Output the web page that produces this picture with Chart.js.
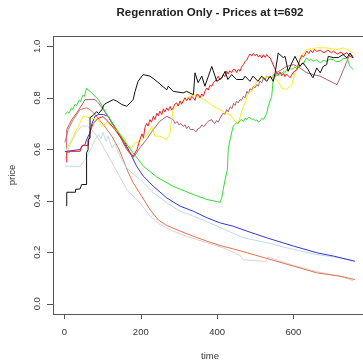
<!DOCTYPE html>
<html>
<head>
<meta charset="utf-8">
<script src="https://cdn.jsdelivr.net/npm/chart.js@4.4.1/dist/chart.umd.min.js"></script>
<style>
  html, body { margin: 0; padding: 0; background: #fff; overflow: hidden; }
  #wrap { position: relative; width: 370px; height: 363px; }
</style>
</head>
<body>
<div id="wrap"><canvas id="c" width="370" height="363"></canvas></div>
<script>
// Price paths per agent: time stamps and prices
const blackT = [6,6,28,29,41,45,58,58,62,62,67,67,75,84,90,98,104,111,128,137,150,163,172,180,185,193,206,224,237,268,272,285,311,320,338,342,350,360,368,386,399,412,421,428,438,451,468,473,486,494,507,517,530,539,547,552,560,573,578,586,596,604,617,625,638,648,651,661,670,678,687,691,704,717,730,740,748,756];
const blackP = [0.379,0.433,0.433,0.444,0.446,0.463,0.463,0.586,0.599,0.638,0.644,0.723,0.731,0.746,0.739,0.754,0.774,0.780,0.793,0.787,0.774,0.767,0.780,0.793,0.825,0.864,0.890,0.884,0.870,0.831,0.845,0.825,0.819,0.825,0.812,0.897,0.859,0.884,0.845,0.922,0.864,0.877,0.903,0.871,0.890,0.871,0.871,0.884,0.864,0.884,0.864,0.884,0.864,0.884,0.864,0.897,0.974,0.956,0.961,0.903,0.936,0.961,0.922,0.936,0.910,0.884,0.878,0.916,0.897,0.922,0.929,0.961,0.956,0.956,0.968,0.955,0.974,0.955];

const redT = [6,6,14,14,41,46,62,67,75,88,101,114,132,151,166,180,190,198,203,207,211,215,219,224,228,233,237,242,246,250,255,259,263,268,272,277,281,285,289,294,298,303,307,311,316,320,325,329,333,338,342,346,351,355,360,364,368,373,377,381,386,390,394,398,403,407,412,416,420,425,429,433,438,442,447,451,455,460,464,469,473,478,482,486,491,495,500,504,508,512,517,521,526,530,535,539,556,560,565,569,574,578,582,587,591,600,609,617,622,626,635,640,645,650,655,661,670,680,690,700,705,715,725,731,740,748,757];
const redP = [0.549,0.589,0.589,0.592,0.592,0.615,0.615,0.668,0.700,0.720,0.727,0.708,0.677,0.638,0.599,0.572,0.599,0.638,0.660,0.645,0.685,0.700,0.690,0.715,0.705,0.728,0.715,0.740,0.730,0.748,0.735,0.757,0.745,0.761,0.750,0.766,0.752,0.761,0.775,0.780,0.768,0.788,0.775,0.787,0.800,0.788,0.800,0.790,0.805,0.800,0.790,0.812,0.812,0.800,0.815,0.806,0.825,0.838,0.830,0.848,0.845,0.858,0.864,0.872,0.884,0.870,0.877,0.890,0.882,0.903,0.892,0.905,0.897,0.910,0.909,0.898,0.910,0.903,0.920,0.929,0.940,0.948,0.960,0.970,0.962,0.972,0.963,0.970,0.958,0.966,0.955,0.967,0.957,0.968,0.958,0.955,0.897,0.890,0.900,0.885,0.895,0.882,0.892,0.884,0.878,0.900,0.909,0.948,0.965,0.958,0.981,0.972,0.985,0.975,0.988,0.980,0.985,0.975,0.985,0.975,0.981,0.970,0.978,0.968,0.975,0.961,0.955];

const greenT = [1,8,12,18,22,28,32,38,42,48,52,58,62,67,89,106,132,154,180,207,242,285,338,373,408,412,416,421,427,429,434,438,442,446,451,455,460,464,469,473,478,482,486,491,495,500,504,508,512,517,521,526,530,534,538,543,547,552,556,560,565,569,574,578,582,587,591,596,604,609,617,622,626,630,635,640,645,652,660,670,678,687,695,705,712,722,730,740,748,757];
const greenP = [0.735,0.745,0.740,0.760,0.755,0.775,0.770,0.790,0.785,0.810,0.805,0.838,0.830,0.825,0.793,0.748,0.689,0.638,0.586,0.534,0.492,0.456,0.424,0.405,0.394,0.411,0.444,0.483,0.521,0.599,0.638,0.664,0.689,0.695,0.703,0.700,0.712,0.715,0.708,0.720,0.716,0.724,0.722,0.716,0.718,0.710,0.714,0.706,0.709,0.720,0.716,0.728,0.740,0.767,0.785,0.806,0.871,0.880,0.890,0.885,0.898,0.893,0.903,0.898,0.910,0.905,0.916,0.910,0.920,0.912,0.922,0.935,0.930,0.945,0.955,0.945,0.950,0.942,0.948,0.936,0.945,0.942,0.950,0.948,0.940,0.942,0.952,0.955,0.922,0.909];

const yellowT = [5,20,40,49,67,89,98,111,124,140,159,167,176,185,198,215,229,237,250,268,277,281,285,294,307,320,329,342,355,373,390,408,421,434,447,456,464,473,482,491,502,512,543,560,569,582,596,604,617,626,635,661,687,714,731,748,757];
const yellowP = [0.600,0.640,0.700,0.728,0.722,0.715,0.689,0.703,0.689,0.669,0.638,0.606,0.606,0.625,0.631,0.651,0.689,0.651,0.651,0.638,0.664,0.715,0.754,0.767,0.780,0.800,0.806,0.812,0.800,0.787,0.767,0.754,0.741,0.735,0.708,0.703,0.748,0.780,0.819,0.825,0.859,0.877,0.884,0.864,0.838,0.832,0.851,0.897,0.955,0.974,0.987,0.994,0.994,0.987,0.994,0.981,0.974];

const mauveT = [6,6,19,32,49,54,80,89,102,119,145,163,180,189,198,215,233,250,268,285,290,295,300,305,311,316,320,325,330,338,345,350,355,360,365,373,378,386,390,394,399,403,408,416,420,425,429,434,439,443,447,451,455,460,464,469,473,478,482,486,491,495,499,504,508,512,517,521,526,530,535,539,543,548,552,556,582,600,617,635,652,670,687,705,714,722,731,740,748,757];
const mauveP = [0.599,0.677,0.715,0.741,0.780,0.793,0.793,0.780,0.754,0.715,0.651,0.599,0.568,0.586,0.606,0.638,0.677,0.709,0.728,0.715,0.700,0.708,0.695,0.700,0.689,0.695,0.680,0.690,0.676,0.677,0.668,0.680,0.683,0.695,0.688,0.703,0.710,0.715,0.705,0.700,0.712,0.705,0.722,0.741,0.735,0.754,0.745,0.765,0.758,0.778,0.770,0.787,0.780,0.793,0.790,0.806,0.800,0.825,0.815,0.835,0.830,0.845,0.838,0.852,0.845,0.865,0.858,0.877,0.870,0.885,0.878,0.884,0.876,0.890,0.885,0.897,0.922,0.929,0.916,0.897,0.890,0.884,0.871,0.858,0.851,0.877,0.909,0.942,0.968,0.961];

const blueT = [1,41,46,54,58,67,72,80,89,102,115,124,141,159,172,189,207,233,268,303,338,373,408,442,478,530,600,661,705,761];
const blueP = [0.591,0.599,0.612,0.618,0.638,0.664,0.700,0.728,0.735,0.735,0.728,0.703,0.664,0.625,0.586,0.534,0.495,0.456,0.411,0.379,0.359,0.334,0.314,0.301,0.282,0.256,0.224,0.198,0.185,0.165];

const lightBlueT = [1,41,54,62,71,80,89,96,101,109,114,125,132,145,159,172,198,233,268,303,338,373,408,469,530,600,661,722,757];
const lightBlueP = [0.534,0.534,0.560,0.580,0.606,0.638,0.657,0.642,0.665,0.630,0.650,0.606,0.622,0.576,0.537,0.514,0.483,0.431,0.392,0.359,0.340,0.319,0.296,0.256,0.237,0.211,0.191,0.178,0.165];

const coralT = [1,10,23,41,58,67,80,98,111,124,141,154,166,180,198,224,246,268,303,338,373,408,442,478,530,600,661,722,761];
const coralP = [0.626,0.677,0.715,0.754,0.761,0.754,0.735,0.703,0.677,0.651,0.606,0.560,0.514,0.470,0.428,0.366,0.325,0.304,0.282,0.262,0.243,0.226,0.213,0.198,0.176,0.146,0.120,0.107,0.094];

const pinkT = [1,15,30,45,60,75,90,105,120,135,150,165,198,224,250,285,320,373,416,460,468,528,533,600,661,722,756];
const pinkP = [0.560,0.620,0.660,0.690,0.690,0.670,0.640,0.600,0.560,0.520,0.480,0.440,0.392,0.340,0.308,0.282,0.262,0.237,0.217,0.188,0.171,0.164,0.182,0.149,0.125,0.106,0.090];

const xTicks = [0, 200, 400, 600];
const yTicks = [0.0, 0.2, 0.4, 0.6, 0.8, 1.0];
const titleText = 'Regenration Only - Prices at t=692';
const xTitle = 'time';
const yTitle = 'price';

const series = [
  { t: blackT, p: blackP, color: '#111111' },
  { t: redT, p: redP, color: '#ee1c1c' },
  { t: greenT, p: greenP, color: '#33dd33' },
  { t: yellowT, p: yellowP, color: '#f2f21a' },
  { t: mauveT, p: mauveP, color: '#b0606a' },
  { t: blueT, p: blueP, color: '#3535d0' },
  { t: lightBlueT, p: lightBlueP, color: '#bcdcea' },
  { t: coralT, p: coralP, color: '#e27250' },
  { t: pinkT, p: pinkP, color: '#ddd0d6' }
];

const FONT = '"Liberation Sans", Arial, sans-serif';

// Base-graphics style frame: box, outward ticks, rotated y labels, titles
const framePlugin = {
  id: 'frame',
  beforeDraw(chart) {
    const ctx = chart.ctx;
    ctx.save();
    ctx.fillStyle = '#ffffff';
    ctx.fillRect(0, 0, chart.width, chart.height);
    ctx.restore();
  },
  afterDraw(chart) {
    const ctx = chart.ctx;
    const a = chart.chartArea;
    const xs = chart.scales.x, ys = chart.scales.y;
    ctx.save();
    ctx.strokeStyle = '#555555';
    ctx.lineWidth = 1;
    ctx.strokeRect(Math.round(a.left) + 0.5, Math.round(a.top) + 0.5,
                   Math.round(a.right - a.left), Math.round(a.bottom - a.top));

    ctx.fillStyle = '#333333';
    ctx.font = '9.5px ' + FONT;
    // x axis ticks
    ctx.textAlign = 'center';
    ctx.textBaseline = 'middle';
    ctx.beginPath();
    xTicks.forEach(v => {
      const px = Math.round(xs.getPixelForValue(v)) + 0.5;
      ctx.moveTo(px, a.bottom);
      ctx.lineTo(px, a.bottom + 5);
    });
    ctx.stroke();
    xTicks.forEach(v => {
      ctx.fillText(String(v), xs.getPixelForValue(v), a.bottom + 18);
    });
    // y axis ticks
    ctx.beginPath();
    yTicks.forEach(v => {
      const py = Math.round(ys.getPixelForValue(v)) + 0.5;
      ctx.moveTo(a.left, py);
      ctx.lineTo(a.left - 6, py);
    });
    ctx.stroke();
    yTicks.forEach(v => {
      ctx.save();
      ctx.translate(a.left - 16, ys.getPixelForValue(v));
      ctx.rotate(-Math.PI / 2);
      ctx.fillText(v.toFixed(1), 0, 0);
      ctx.restore();
    });
    // axis titles
    ctx.font = '9.5px ' + FONT;
    ctx.fillText(xTitle, 210, 356);
    ctx.save();
    ctx.translate(12, (a.top + a.bottom) / 2);
    ctx.rotate(-Math.PI / 2);
    ctx.fillText(yTitle, 0, 0);
    ctx.restore();
    // main title
    ctx.fillStyle = '#222222';
    ctx.font = 'bold 11.5px ' + FONT;
    ctx.fillText(titleText, 210, 13);
    ctx.restore();
  }
};

new Chart(document.getElementById('c'), {
  type: 'scatter',
  data: {
    datasets: series.map(s => ({
      data: s.t.map((t, i) => ({ x: t, y: s.p[i] })),
      showLine: true,
      borderColor: s.color,
      backgroundColor: s.color,
      borderWidth: 1,
      pointRadius: 0,
      tension: 0,
      fill: false
    }))
  },
  options: {
    responsive: false,
    devicePixelRatio: 1,
    animation: false,
    events: [],
    layout: { padding: { left: 53, top: 36, right: 4, bottom: 49 } },
    plugins: { legend: { display: false }, tooltip: { enabled: false }, title: { display: false } },
    scales: {
      x: { type: 'linear', display: false, min: -30, max: 790 },
      y: { type: 'linear', display: false, min: -0.04, max: 1.04 }
    }
  },
  plugins: [framePlugin]
});
</script>
</body>
</html>
